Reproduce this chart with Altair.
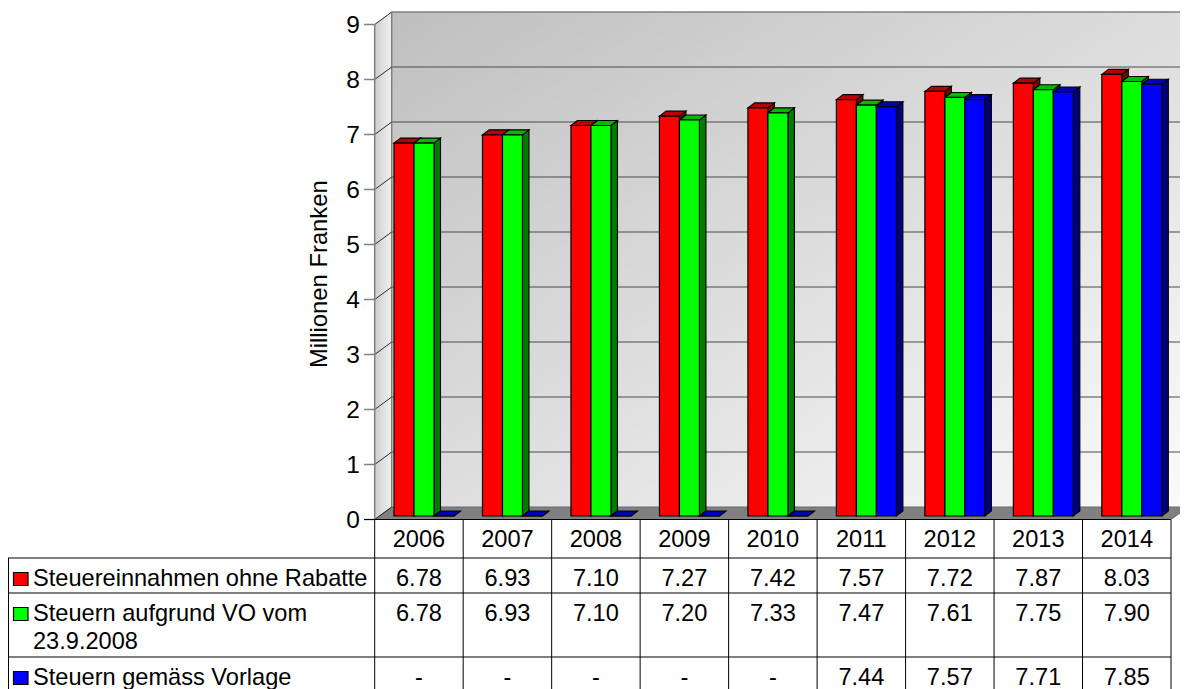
import altair as alt
import pandas as pd

# ---------------- data ----------------
years = ["2006", "2007", "2008", "2009", "2010", "2011", "2012", "2013", "2014"]
series_names = ["Steuereinnahmen ohne Rabatte",
                "Steuern aufgrund VO vom 23.9.2008",
                "Steuern gemäss Vorlage"]
legend_lines = [["Steuereinnahmen ohne Rabatte"],
                ["Steuern aufgrund VO vom", "23.9.2008"],
                ["Steuern gemäss Vorlage"]]
ohne_rabatte = [6.78, 6.93, 7.10, 7.27, 7.42, 7.57, 7.72, 7.87, 8.03]
aufgrund_vo = [6.78, 6.93, 7.10, 7.20, 7.33, 7.47, 7.61, 7.75, 7.90]
gemaess_vorlage = [None, None, None, None, None, 7.44, 7.57, 7.71, 7.85]
values = [ohne_rabatte, aufgrund_vo, gemaess_vorlage]
y_ticks = [0, 1, 2, 3, 4, 5, 6, 7, 8, 9]
axis_title = "Millionen Franken"

front_colors = ["#ff0000", "#00ff00", "#0000ff"]
top_colors = ["#b80000", "#00b800", "#0000b8"]
side_colors = ["#7c0000", "#007c00", "#00007c"]

# ---------------- layout (page pixels -> scale units) ----------------
PX, PY = 88.48, 55.0          # pixels per column / per value unit
X0, Y0 = 374.7, 519.5         # page position of column 0 / value 0
W, H = 1172, 681
FS = 23.6


def ux(p):
    return (p - X0) / PX


def uy(p):
    return (Y0 - p) / PY


XMIN, XMAX = ux(8), ux(8 + W)
YMIN, YMAX = uy(8 + H), uy(8)
WDX, WDY = 17 / PX, 12.5 / PY          # wall depth
BDX, BDY = 6.5 / PX, 5.0 / PY          # bar depth
BAR_W = 20 / PX
BAR_START = 19.3 / PX
BASE = uy(516)
NTOP = max(y_ticks)
XWALL_END = ux(1188)

XS = alt.Scale(domain=[XMIN, XMAX], nice=False, zero=False)
YS = alt.Scale(domain=[YMIN, YMAX], nice=False, zero=False)


def X(f):
    return alt.X(f"{f}:Q", scale=XS, axis=None)


def Y(f):
    return alt.Y(f"{f}:Q", scale=YS, axis=None)


def rules(rows, color, width=1.0):
    df = pd.DataFrame(rows, columns=["x", "x2", "y", "y2"])
    return alt.Chart(df).mark_rule(color=color, strokeWidth=width, clip=True).encode(
        x=X("x"), x2=alt.X2("x2"), y=Y("y"), y2=alt.Y2("y2"))


def texts(rows, size=FS, align="center", **kw):
    df = pd.DataFrame(rows, columns=["x", "y", "t"])
    return alt.Chart(df).mark_text(font="Liberation Sans", fontSize=size, align=align,
                                   baseline="middle", color="black", **kw).encode(
        x=X("x"), y=Y("y"), text="t:N")


layers = []

# side wall (left)
side_wall = pd.DataFrame({"x": [0, WDX], "lo": [0, WDY], "hi": [NTOP, NTOP + WDY]})
layers.append(alt.Chart(side_wall).mark_area(
    fill=alt.Gradient(gradient="linear", x1=0, y1=0, x2=1, y2=0,
                      stops=[alt.GradientStop(color="#cdcdcd", offset=0),
                             alt.GradientStop(color="#f2f2f2", offset=1)]),
    stroke=None).encode(x=X("x"), y=Y("hi"), y2=alt.Y2("lo")))

# back wall
back_wall = pd.DataFrame({"x": [WDX], "x2": [XWALL_END], "y": [WDY], "y2": [NTOP + WDY]})
layers.append(alt.Chart(back_wall).mark_rect(
    clip=True,
    fill=alt.Gradient(gradient="linear", x1=0, y1=0, x2=1, y2=1,
                      stops=[alt.GradientStop(color="#bfbfbf", offset=0),
                             alt.GradientStop(color="#fbfbfb", offset=1)])).encode(
    x=X("x"), x2=alt.X2("x2"), y=Y("y"), y2=alt.Y2("y2")))

# floor
floor = pd.DataFrame({"y": [0, WDY], "xl": [0, WDX], "xr": [len(years), len(years) + WDX]})
layers.append(alt.Chart(floor).mark_area(orient="horizontal", fill="#808080", clip=True,
                                         stroke="#6a6a6a", strokeWidth=1).encode(
    y=Y("y"), x=X("xl"), x2=alt.X2("xr")))

# back-wall grid lines and wall border
layers.append(rules([[WDX, XWALL_END, v + WDY, v + WDY] for v in y_ticks[1:-1]], "#4a4a4a", 1))
layers.append(rules([[WDX, XWALL_END, NTOP + WDY, NTOP + WDY],
                     [WDX, WDX, WDY, NTOP + WDY]], "#808080", 1.5))
# side-wall diagonals
layers.append(rules([[0, WDX, v, v + WDY] for v in y_ticks], "#2a2a2a", 1))
# front axis line and ticks
layers.append(rules([[0, 0, 0, NTOP]], "#808080", 1.5))
layers.append(rules([[ux(364), 0, v, v] for v in y_ticks], "#808080", 1.5))
layers.append(texts([[ux(360), v - 1.0 / PY, str(v)] for v in y_ticks], size=24.5, align="right"))

# bars (series drawn in order so later series cover earlier side faces)
for s, vals in enumerate(values):
    fr, sd, tp = [], [], []
    for i, v in enumerate(vals):
        val = 0.0 if v is None else v
        L = i + BAR_START + s * BAR_W
        R = L + BAR_W
        top = BASE + val
        fr.append({"x": L, "x2": R, "y": BASE, "y2": top})
        sd.append({"f": i, "x": R, "lo": BASE, "hi": top})
        sd.append({"f": i, "x": R + BDX, "lo": BASE + BDY, "hi": top + BDY})
        tp.append({"f": i, "y": top, "xl": L, "xr": R})
        tp.append({"f": i, "y": top + BDY, "xl": L + BDX, "xr": R + BDX})
    layers.append(alt.Chart(pd.DataFrame(sd)).mark_area(
        fill=side_colors[s], stroke="black", strokeWidth=1.1).encode(
        x=X("x"), y=Y("hi"), y2=alt.Y2("lo"), detail="f:N"))
    layers.append(alt.Chart(pd.DataFrame(tp)).mark_area(
        orient="horizontal", fill=top_colors[s], stroke="black", strokeWidth=1.1).encode(
        y=Y("y"), x=X("xl"), x2=alt.X2("xr"), detail="f:N"))
    layers.append(alt.Chart(pd.DataFrame(fr)).mark_rect(
        fill=front_colors[s], stroke="black", strokeWidth=1.2).encode(
        x=X("x"), x2=alt.X2("x2"), y=Y("y"), y2=alt.Y2("y2")))

# ---------------- data table ----------------
row_top = [uy(558), uy(593), uy(657)]
row_text = [[578], [613, 641], [677]]
n = len(years)
layers.append(rules([[i, i, uy(520), YMIN] for i in range(n)], "black", 1))
layers.append(rules([[n, n, uy(520), YMIN]], "#808080", 2))
layers.append(rules([[ux(8.5), ux(8.5), row_top[0], YMIN]], "black", 1))
layers.append(rules([[ux(8), n, y, y] for y in row_top], "black", 1))
layers.append(rules([[ux(364), n, 0, 0]], "black", 1.2))

# header (years)
layers.append(texts([[i + 0.5, uy(539 + 1), y] for i, y in enumerate(years)]))
# values
cells = []
for s, vals in enumerate(values):
    for i, v in enumerate(vals):
        cells.append([i + 0.5, uy(row_text[s][0] + 1), "-" if v is None else f"{v:.2f}"])
layers.append(texts(cells))
# legend labels
lab = []
for s, lines in enumerate(legend_lines):
    for k, line in enumerate(lines):
        lab.append([ux(33), uy(row_text[s][k] + 1), line])
layers.append(texts(lab, align="left"))
# legend swatches
sw = pd.DataFrame({"x": [ux(13.5)] * 3, "x2": [ux(28)] * 3,
                   "y": [uy(row_text[s][0] + 1 + 6.5) for s in range(3)],
                   "y2": [uy(row_text[s][0] + 1 - 6.5) for s in range(3)],
                   "c": series_names})
layers.append(alt.Chart(sw).mark_rect(stroke="black", strokeWidth=1.2).encode(
    x=X("x"), x2=alt.X2("x2"), y=Y("y"), y2=alt.Y2("y2"),
    fill=alt.Fill("c:N", scale=alt.Scale(domain=series_names, range=front_colors), legend=None)))

# y axis title
title = pd.DataFrame({"x": [ux(326.5)], "y": [NTOP / 2 - 0.04], "t": [axis_title]})
layers.append(alt.Chart(title).mark_text(font="Liberation Sans", fontSize=23.8, angle=270,
                                         align="center", baseline="alphabetic",
                                         color="black").encode(
    x=X("x"), y=Y("y"), text="t:N"))

chart = alt.layer(*layers).properties(
    width=W, height=H,
    autosize=alt.AutoSizeParams(type="none"),
    padding={"left": 0, "top": 0, "right": 0, "bottom": 0},
).configure_view(stroke=None)

chart.save("out.html", embed_options={"renderer": "svg", "actions": False})
